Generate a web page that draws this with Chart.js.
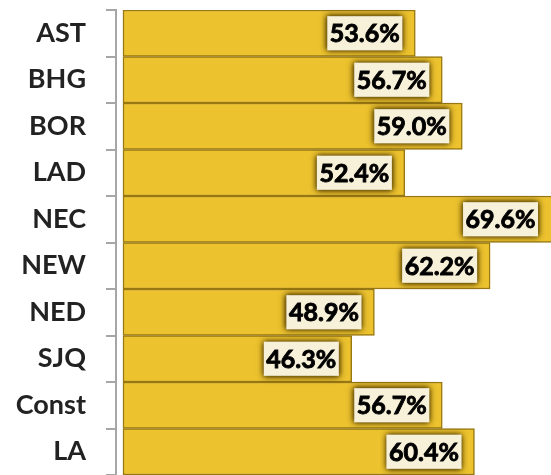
<!DOCTYPE html>
<html>
<head>
<meta charset="utf-8">
<script src="https://cdn.jsdelivr.net/npm/chart.js@4"></script>
<style>
  html, body { margin: 0; padding: 0; background: #ffffff; }
  #wrap { width: 551px; height: 475px; position: relative; }
</style>
</head>
<body>
<div id="wrap"><canvas id="myChart" width="551" height="475"></canvas></div>
<script>
// categories and values (percent)
const categories = ['AST', 'BHG', 'BOR', 'LAD', 'NEC', 'NEW', 'NED', 'SJQ', 'Const', 'LA'];
const shares = [53.6, 56.7, 59.0, 52.4, 69.6, 62.2, 48.9, 46.3, 56.7, 60.4];

const barFill = '#ECC22E';
const barEdge = '#977811';
const axisGray = '#A6A6A6';
const labelFont = 'bold 25px Lato, "Open Sans", sans-serif';

// draws the boxed value labels near the end of each bar
const valueBoxes = {
    id: 'valueBoxes',
    afterDatasetsDraw(chart) {
        const ctx = chart.ctx;
        const meta = chart.getDatasetMeta(0);
        ctx.save();
        ctx.font = labelFont;
        ctx.textBaseline = 'middle';
        ctx.textAlign = 'left';
        meta.data.forEach((bar, i) => {
            const txt = shares[i].toFixed(1) + '%';
            const w = ctx.measureText(txt).width + 5;
            const h = 34;
            const right = Math.min(bar.x, chart.chartArea.right) - 13;
            const left = right - w;
            const top = bar.y - h / 2;
            // glow box, drawn twice for a stronger halo
            ctx.shadowColor = 'rgba(85, 62, 0, 1)';
            ctx.shadowBlur = 6;
            ctx.fillStyle = '#F8F1DA';
            ctx.fillRect(left, top, w, h);
            ctx.fillRect(left, top, w, h);
            ctx.shadowBlur = 0;
            ctx.shadowColor = 'transparent';
            ctx.fillStyle = '#000000';
            ctx.strokeStyle = '#000000';
            ctx.lineWidth = 0.9;
            ctx.fillText(txt, left + 2.5, bar.y + 1);
            ctx.strokeText(txt, left + 2.5, bar.y + 1);
        });
        ctx.restore();
    }
};

const ctx = document.getElementById('myChart').getContext('2d');
new Chart(ctx, {
    type: 'bar',
    data: {
        labels: categories,
        datasets: [{
            data: shares,
            base: 20,
            backgroundColor: barFill,
            borderColor: barEdge,
            borderWidth: 1.5,
            borderSkipped: false,
            categoryPercentage: 1.0,
            barPercentage: 1.0
        }]
    },
    options: {
        indexAxis: 'y',
        responsive: false,
        animation: false,
        layout: { padding: { top: 10, right: 0, bottom: 0, left: 0 } },
        plugins: {
            legend: { display: false },
            tooltip: { enabled: false }
        },
        scales: {
            x: {
                display: false,
                min: 19.2,
                max: 69.2
            },
            y: {
                afterFit: (scale) => {
                    scale.width = 116;
                    scale.paddingTop = 0;
                    scale.paddingBottom = 0;
                },
                border: { display: true, color: axisGray, width: 2 },
                grid: {
                    display: true,
                    drawOnChartArea: false,
                    drawTicks: true,
                    tickLength: 10,
                    color: axisGray,
                    lineWidth: 2,
                    offset: true
                },
                ticks: {
                    color: '#222222',
                    padding: 20,
                    font: { family: 'Lato, "Open Sans", sans-serif', size: 27, weight: 'bold' }
                }
            }
        }
    },
    plugins: [valueBoxes]
});
</script>
</body>
</html>
